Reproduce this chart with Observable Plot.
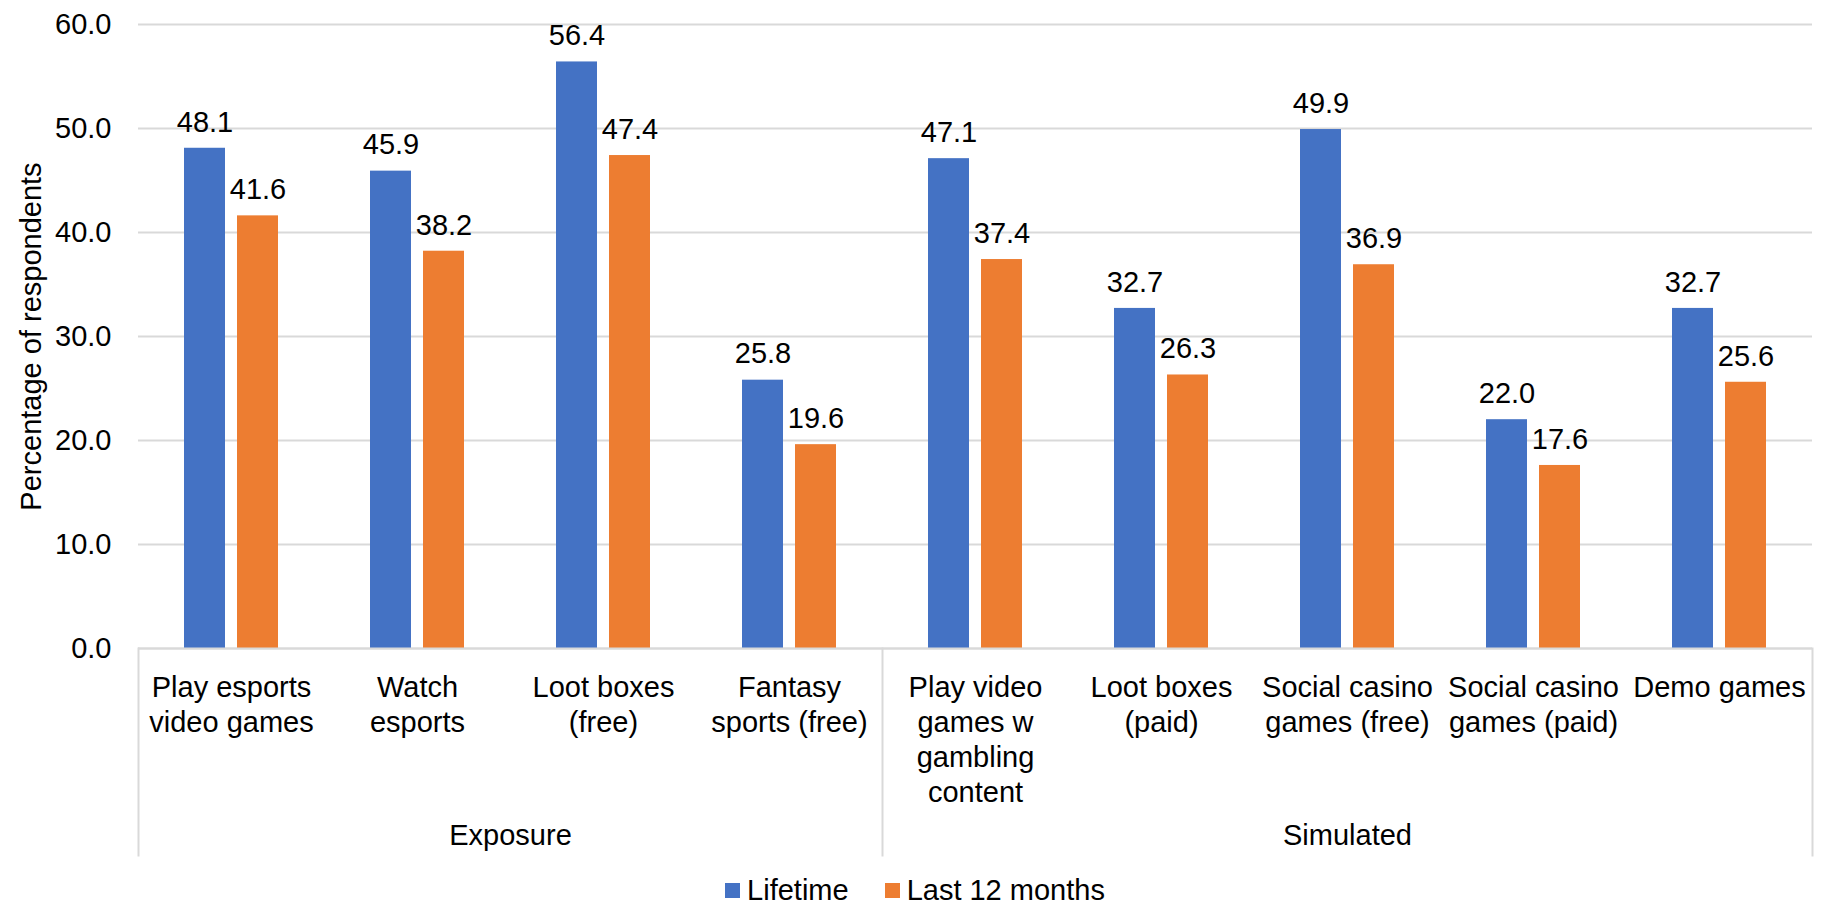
<!DOCTYPE html>
<html><head><meta charset="utf-8">
<script src="https://cdn.jsdelivr.net/npm/d3@7"></script>
<script src="https://cdn.jsdelivr.net/npm/@observablehq/plot@0.6"></script>
<style>
body{margin:0;background:#fff;font-family:"Liberation Sans",Arial,Helvetica,sans-serif;}
#legend{display:flex;justify-content:center;align-items:center;height:40px;font-size:29px;color:#000;}
.item{display:flex;align-items:center;margin:0 18px;}
.sw{width:15px;height:15px;margin-right:7px;}
</style></head><body><div id="chart"></div><div id="legend"></div>
<script>
const categories = ["Play esports video games","Watch esports","Loot boxes (free)","Fantasy sports (free)","Play video games w gambling content","Loot boxes (paid)","Social casino games (free)","Social casino games (paid)","Demo games"];
const categoryLabels = ["Play esports\nvideo games","Watch\nesports","Loot boxes\n(free)","Fantasy\nsports (free)","Play video\ngames w\ngambling\ncontent","Loot boxes\n(paid)","Social casino\ngames (free)","Social casino\ngames (paid)","Demo games"];
const groups = ["Exposure","Simulated"];
const groupSizes = [4,5];
const series = ["Lifetime","Last 12 months"];
const lifetime = [48.1,45.9,56.4,25.8,47.1,32.7,49.9,22.0,32.7];
const last12 = [41.6,38.2,47.4,19.6,37.4,26.3,36.9,17.6,25.6];
const colors = ["#4472C4","#ED7D31"];
const yTicks = [0,10,20,30,40,50,60];
const yLabel = "Percentage of respondents";

const values = [lifetime, last12];
const rows = [];
categories.forEach((c,i)=>series.forEach((s,j)=>rows.push({cat:c, series:s, value:values[j][i]})));
const catRows = categories.map((c,i)=>({cat:c, label:categoryLabels[i]}));

const W=1830, H=870, mT=24, mB=222, mL=136, mR=17;
const frameH = H-mT-mB;
const sepExt = 207;
const grid = "#d9d9d9";

const groupMarks = [];
let start = 0;
groups.forEach((g,gi)=>{
  const n = groupSizes[gi];
  const mid = start + (n-1)/2;
  const fi = Math.floor(mid);
  const anchor = Number.isInteger(mid) ? "bottom" : "bottom-right";
  groupMarks.push(Plot.text([g], {fx: () => categories[fi], text: d=>d, frameAnchor: anchor, textAnchor:"middle", dy: 196, fontSize: 29}));
  const s0 = start;
  groupMarks.push(Plot.frame({fx: () => categories[s0], anchor:"left", insetTop: frameH, insetBottom: -sepExt, stroke: grid, strokeWidth: 2}));
  start += n;
});
groupMarks.push(Plot.frame({fx: () => categories[categories.length-1], anchor:"right", insetTop: frameH, insetBottom: -sepExt, stroke: grid, strokeWidth: 2}));

const plot = Plot.plot({
  width: W, height: H, marginTop: mT, marginBottom: mB, marginLeft: mL, marginRight: mR,
  style: {fontFamily: '"Liberation Sans",Arial,Helvetica,sans-serif', fontSize: "29px", color: "#000", background: "#fff"},
  fx: {domain: categories, padding: 0, axis: null, label: null},
  x: {domain: series, paddingInner: 0.222, paddingOuter: 0.835, axis: null, label: null},
  y: {domain: [0,60], axis: null, label: null},
  color: {domain: series, range: colors},
  marks: [
    Plot.gridY(yTicks, {stroke: grid, strokeOpacity: 1, strokeWidth: 2}),
    Plot.barY(rows, {fx:"cat", x:"series", y:"value", fill:"series"}),
    Plot.ruleY([0], {stroke: grid, strokeWidth: 2}),
    Plot.text(rows, {fx:"cat", x:"series", y:"value", text: d=>d.value.toFixed(1), dy: -26, fontSize: 29}),
    Plot.axisY(yTicks, {tickSize: 0, tickPadding: 27, tickFormat: d=>d.toFixed(1), fontSize: 29, label: null}),
    Plot.text([yLabel], {frameAnchor:"left", textAnchor:"middle", rotate: -90, dx: -107, facetAnchor:"left", fontSize: 29, text: d=>d}),
    Plot.text(catRows, {fx:"cat", text:"label", frameAnchor:"bottom", lineAnchor:"top", dy: 24, lineHeight: 1.2, fontSize: 29}),
    ...groupMarks
  ]
});
document.getElementById("chart").appendChild(plot);

const legend = d3.select("#legend");
series.forEach((s,i)=>{
  const it = legend.append("div").attr("class","item");
  it.append("div").attr("class","sw").style("background", colors[i]);
  it.append("span").text(s);
});
</script></body></html>
